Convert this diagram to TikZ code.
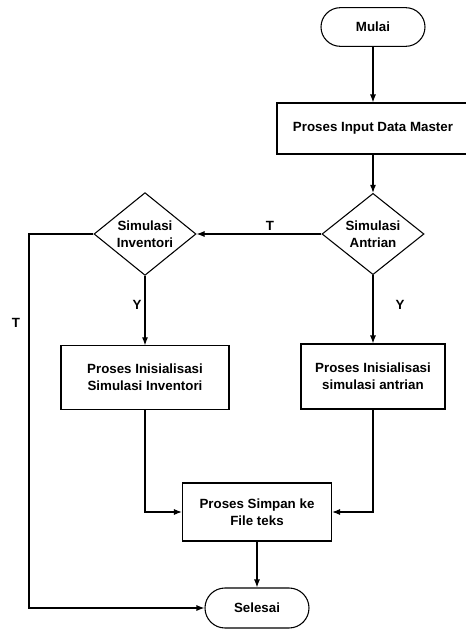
\documentclass[tikz,border=0pt]{standalone}
\usepackage{fontspec}
\setmainfont{Liberation Sans}
\usetikzlibrary{shapes.geometric,arrows.meta}

\tikzset{every picture/.style={line width=0.8pt}}
\tikzset{
  txt/.style={font=\fontsize{10}{12.5}\selectfont\bfseries, align=center, inner sep=0.75pt},
  term/.style={txt, draw, rectangle, rounded corners=14.5pt, minimum width=78pt, minimum height=29pt},
  proc/.style={txt, draw, rectangle},
  decis/.style={txt, draw, diamond, inner sep=0pt, minimum width=76.5pt, minimum height=58pt},
  flow/.style={-{Latex[length=6pt,width=4.5pt]}},
}

\begin{document}
\begin{tikzpicture}[x=0.75pt,y=0.75pt,yscale=-1,xscale=1]
\useasboundingbox (0,0) rectangle (465,629);

% Start and input
\node [term] (mulai) at (373,27) {Mulai};
\node [proc, minimum width=144pt, minimum height=38.25pt] (input) at (373,128.5) {Proses Input Data Master};

% Decisions
\node [decis] (antrian) at (373,234) {Simulasi\\Antrian};
\node [decis] (inventori) at (145,234) {Simulasi\\Inventori};

% Init processes
\node [proc, minimum width=126pt, minimum height=47.5pt] (initinv) at (145,377.5) {Proses Inisialisasi\\Simulasi Inventori};
\node [proc, minimum width=108pt, minimum height=48.75pt] (initant) at (373,376.5) {Proses Inisialisasi\\simulasi antrian};

% Save and end
\node [proc, minimum width=111.75pt, minimum height=43.5pt] (simpan) at (257,512) {Proses Simpan ke\\File teks};
\node [term, rounded corners=15pt, minimum height=30pt] (selesai) at (257,608) {Selesai};

\coordinate (lbend) at (29,234);

% Connectors
\draw [flow] (mulai) -- (input);
\draw [flow] (input) -- (antrian);
\draw [flow] (antrian) -- (inventori);
\draw [flow] (antrian) -- (initant);
\draw [flow] (inventori) -- (initinv);
\draw [flow] (initinv.south) |- (simpan.west);
\draw [flow] (initant.south) |- (simpan.east);
\draw [flow] (simpan) -- (selesai);
\draw [flow] (inventori.west) -- (lbend) |- (selesai.west);

% Labels
\node [txt] (tant) at (270,226) {T};
\node [txt] (yant) at (400,305) {Y};
\node [txt] (yinv) at (137,305) {Y};
\node [txt] (tinv) at (16,323) {T};
\end{tikzpicture}
\end{document}
